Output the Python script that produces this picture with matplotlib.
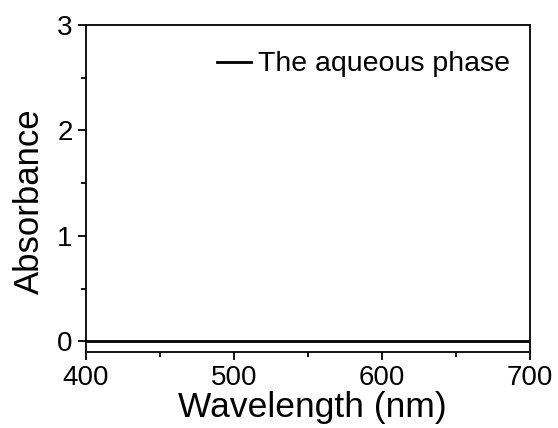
import matplotlib
matplotlib.use("Agg")
import matplotlib.pyplot as plt
from matplotlib.ticker import MultipleLocator

plt.rcParams['font.family'] = ['Liberation Sans', 'DejaVu Sans']

# Absorbance spectrum of the aqueous phase (flat baseline)
wavelength = [400, 450, 500, 550, 600, 650, 700]
absorbance = [0.0, 0.0, 0.0, 0.0, 0.0, 0.0, 0.0]
series_label = "The aqueous phase"

fig = plt.figure(figsize=(5.58, 4.28), dpi=100)
ax = fig.add_axes([86 / 558, 1 - 352 / 428, (530 - 86) / 558, (352 - 25) / 428])

ax.plot(wavelength, absorbance, color='black', lw=2.0, label=series_label)

ax.set_xlim(400, 700)
ax.set_ylim(-0.1, 3)
ax.xaxis.set_major_locator(MultipleLocator(100))
ax.xaxis.set_minor_locator(MultipleLocator(50))
ax.yaxis.set_major_locator(MultipleLocator(1))
ax.yaxis.set_minor_locator(MultipleLocator(0.5))
ax.tick_params(which='both', direction='out', width=1.3, top=False, right=False)
ax.tick_params(which='major', length=6, labelsize=20, pad=3.5)
ax.tick_params(which='minor', length=3.5)
for s in ax.spines.values():
    s.set_linewidth(1.3)

ax.set_xlabel("Wavelength (nm)", fontsize=25.5, labelpad=0)
ax.set_ylabel("Absorbance", fontsize=25, labelpad=8)
ax.xaxis.label.set_x(0.51)
ax.yaxis.label.set_y(0.462)

ax.legend(loc='upper right', frameon=False, fontsize=20.5, handlelength=1.2,
          handletextpad=0.25, borderaxespad=0.3, bbox_to_anchor=(1.0, 0.98))

fig.savefig("out.png", dpi=100)
